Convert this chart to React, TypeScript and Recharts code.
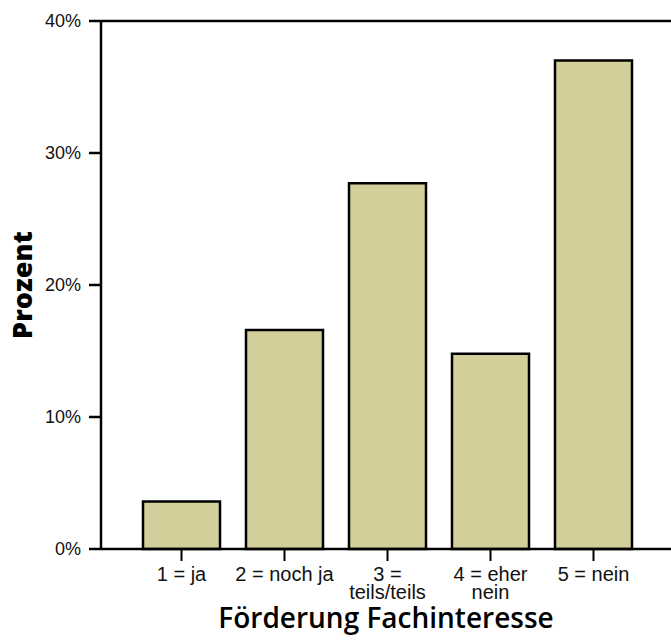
import React from 'react';
import { BarChart, Bar, XAxis, YAxis, ReferenceLine } from 'recharts';

const categories = ['1 = ja', '2 = noch ja', '3 =\nteils/teils', '4 = eher\nnein', '5 = nein'];
const percentValues = [3.6, 16.6, 27.7, 14.8, 37.0];
const yTicks = [0, 10, 20, 30, 40];

const data = categories.map((label, i) => ({ label, value: percentValues[i] }));

const tickFont = '"Liberation Sans Narrow", "Liberation Sans", Arial, sans-serif';
const titleFont = '"Open Sans", "Noto Sans", sans-serif';

const CategoryTick = (props: any) => {
  const { x, y, payload } = props;
  const lines = String(payload.value).split('\n');
  return (
    <text x={x} y={y} textAnchor="middle" fontFamily={tickFont} fontSize={20} fill="#111">
      {lines.map((line: string, i: number) => (
        <tspan key={i} x={x} dy={i === 0 ? 20 : 18}>
          {line}
        </tspan>
      ))}
    </text>
  );
};

const YTitle = (props: any) => {
  const { viewBox } = props;
  const cx = 21;
  const cy = viewBox.y + viewBox.height / 2;
  return (
    <text
      x={cx}
      y={cy}
      transform={`rotate(-90, ${cx}, ${cy})`}
      textAnchor="middle"
      dominantBaseline="central"
      fontFamily={titleFont}
      fontWeight={800}
      fontSize={27}
      fill="#000"
    >
      Prozent
    </text>
  );
};

export default function App() {
  return (
    <div style={{ position: 'absolute', left: 0, top: 0, width: 671, height: 641, background: '#fff' }}>
      <BarChart width={671} height={641} data={data} margin={{ top: 21, right: 0, bottom: 0, left: 0 }}>
        <ReferenceLine y={40} stroke="#000" strokeWidth={2.5} ifOverflow="extendDomain" />
        <XAxis
          dataKey="label"
          height={92}
          padding={{ left: 29, right: 26 }}
          axisLine={{ stroke: '#000', strokeWidth: 2.5 }}
          tickLine={{ stroke: '#000', strokeWidth: 2 }}
          tickSize={12}
          tickMargin={0}
          interval={0}
          tick={<CategoryTick />}
          label={{
            value: 'Förderung Fachinteresse',
            position: 'insideBottom',
            offset: 13,
            fontFamily: titleFont,
            fontWeight: 600,
            fontSize: 28,
            fill: '#000',
          }}
        />
        <YAxis
          width={101}
          domain={[0, 40]}
          ticks={yTicks}
          tickFormatter={(v: number) => `${v}%`}
          axisLine={{ stroke: '#000', strokeWidth: 2.5 }}
          tickLine={{ stroke: '#000', strokeWidth: 2.5 }}
          tickSize={12}
          tickMargin={8}
          tick={{ fontFamily: tickFont, fontSize: 18, fill: '#111' }}
          label={<YTitle />}
        />
        <Bar
          dataKey="value"
          barSize={77}
          fill="#d3cf9a"
          stroke="#000"
          strokeWidth={2.5}
          isAnimationActive={false}
        />
      </BarChart>
    </div>
  );
}
